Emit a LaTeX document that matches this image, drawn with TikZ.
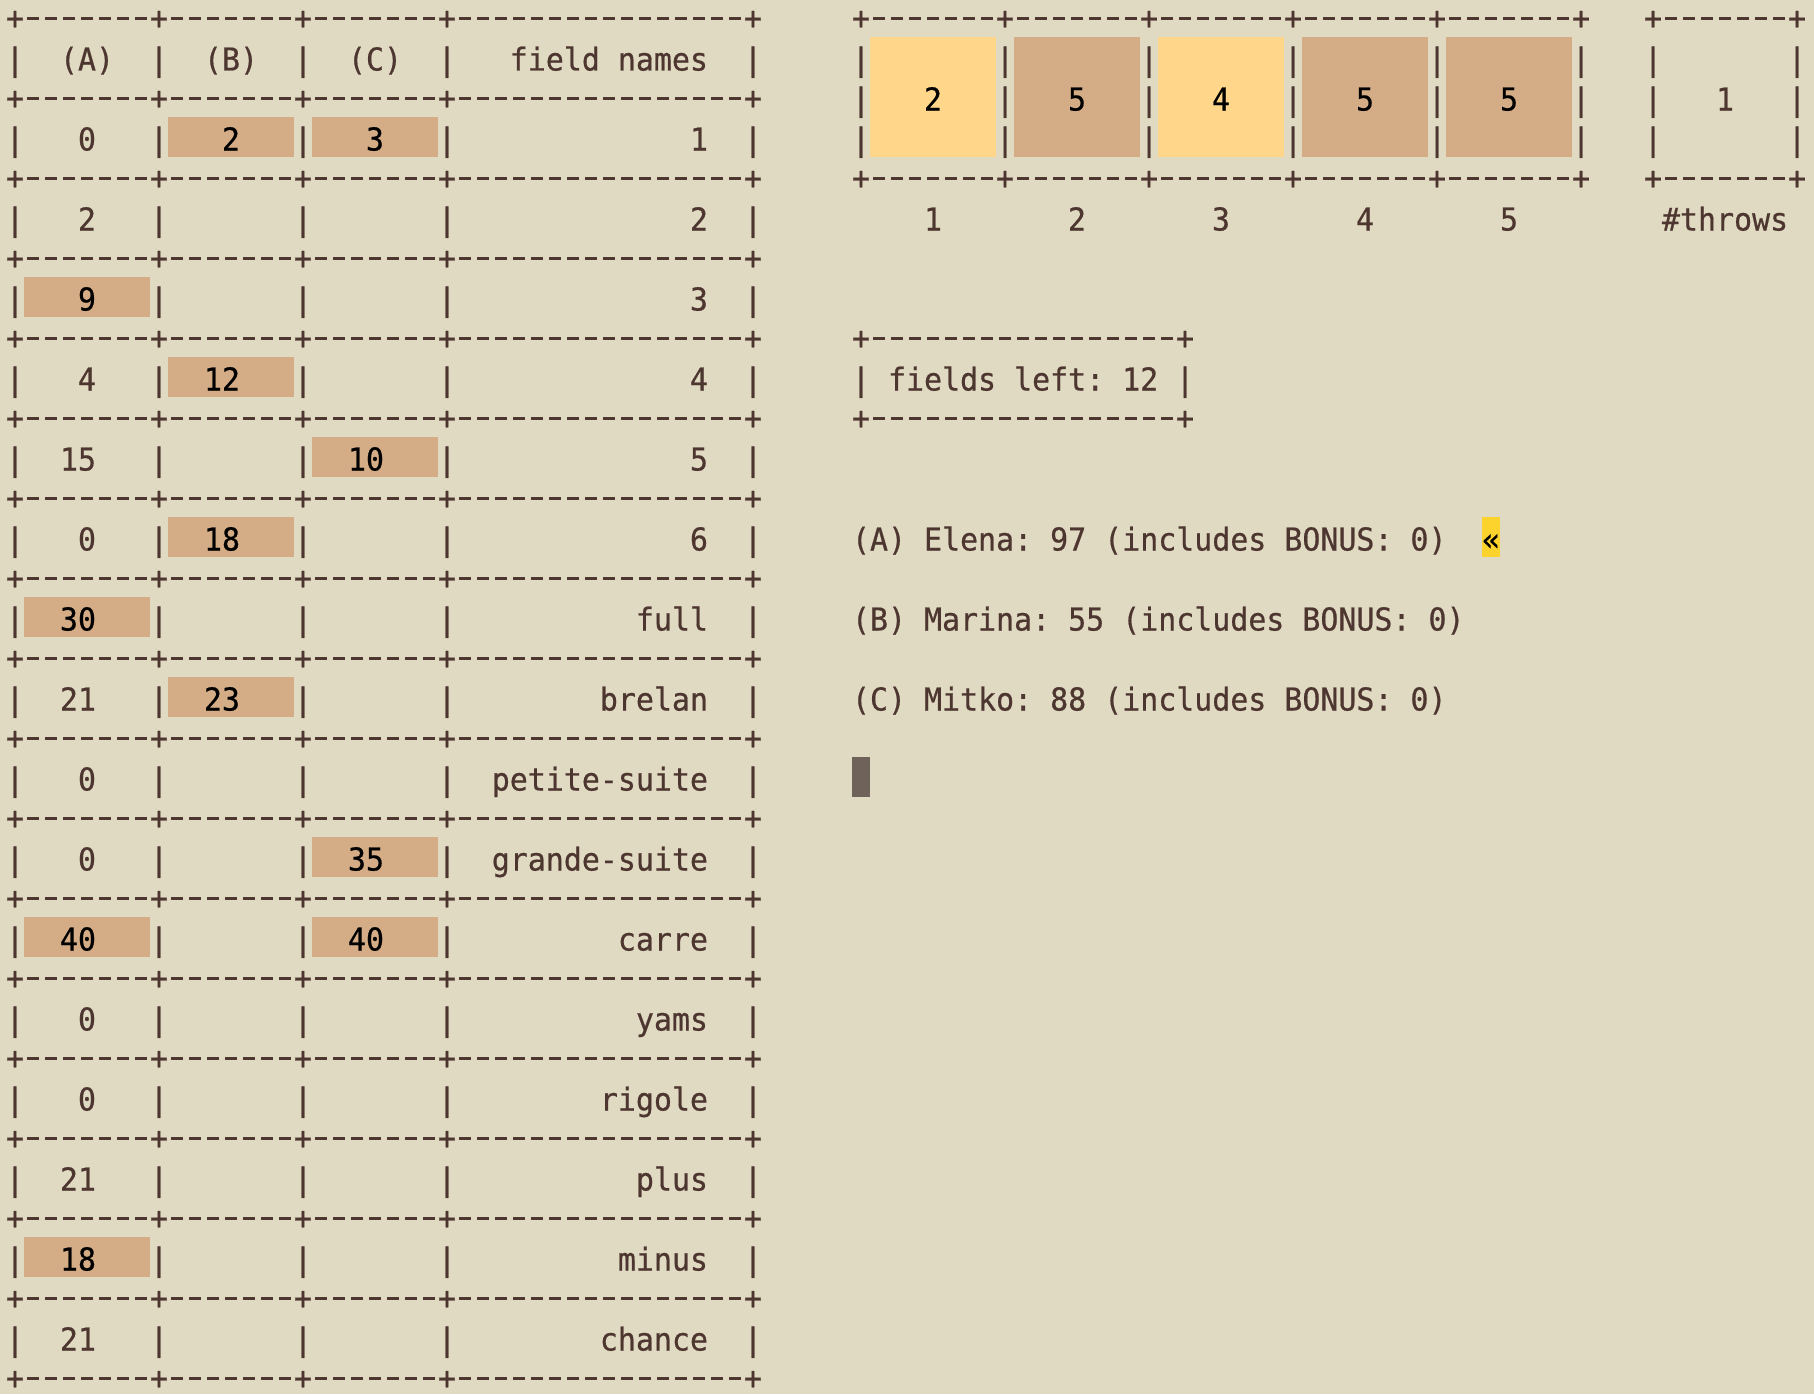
\documentclass[tikz,border=0pt]{standalone}
\usepackage{fontspec}
\setmonofont[FakeStretch=0.95,FakeBold=0.6]{DejaVu Sans Mono}
\definecolor{bg}{HTML}{E0DAC2}
\definecolor{ink}{HTML}{4E3630}
\definecolor{tan}{HTML}{D4AC86}
\definecolor{die}{HTML}{FFD68A}
\definecolor{marker}{HTML}{FCD22C}
\definecolor{cursor}{HTML}{6E625A}

\begin{document}
\begin{tikzpicture}[
x=1pt, y=-1pt,
term/.style={
  inner sep=0pt,
  outer sep=0pt,
  text=ink,
  font=\ttfamily\fontsize{31.5}{40}\selectfont
  },
lft/.style={term, anchor=base west},
rgt/.style={term, anchor=base east},
mid/.style={term, anchor=base},
hot/.style={text=black},
dashes/.style={draw=ink, line width=2.7pt, dash pattern=on 12pt off 6pt}
]
\fill[bg] (0,0) rectangle (1814,1394);
\useasboundingbox (0,0) rectangle (1814,1394);

% score table
\foreach \l in {0,2,...,34}
{\foreach \c in {0,8,16,24,41}
  \node[lft] (plus-\l-\c) at ({6+18*\c},{29+40*\l}) {+};
 \foreach \a/\b in {0/8,8/16,16/24,24/41}
  \draw[dashes] ({27+18*\a},{18.3+40*\l}) -- ({3+18*\b},{18.3+40*\l});
}
\foreach \l in {1,3,...,33}
{\foreach \c in {0,8,16,24,41}
  \node[lft] (bar-\l-\c) at ({6+18*\c},{30.5+40*\l}) {|};
}
\node[lft] (head-a) at (60,70.5) {(A)};
\node[lft] (head-b) at (204,70.5) {(B)};
\node[lft] (head-c) at (348,70.5) {(C)};
\node[rgt] (head-name) at (708,70.5) {field names};

\foreach \l/\name in {3/1,5/2,7/3,9/4,11/5,13/6,15/full,17/brelan,19/petite-suite,
  21/grande-suite,23/carre,25/yams,27/rigole,29/plus,31/minus,33/chance}
  \node[rgt] (name-\l) at (708,{30.5+40*\l}) {\name};

\foreach \l/\v in {3/0,5/2,9/4,11/15,13/0,17/21,19/0,21/0,25/0,27/0,29/21,33/21}
  \node[rgt] (val-0-\l) at (96,{30.5+40*\l}) {\v};

\foreach \k/\l/\v in {0/7/9,0/15/30,0/23/40,0/31/18,1/3/2,1/9/12,1/13/18,1/17/23,
  2/3/3,2/11/10,2/21/35,2/23/40}
{\fill[tan] ({24+144*\k},{40*\l-3}) rectangle ({150+144*\k},{40*\l+37});
 \node[rgt, hot] (val-\k-\l) at ({96+144*\k},{30.5+40*\l}) {\v};
}

% dice and throws
\foreach \l in {0,4}
{\foreach \c in {47,55,63,71,79,87,91,99}
  \node[lft] (dplus-\l-\c) at ({6+18*\c},{29+40*\l}) {+};
 \foreach \a/\b in {47/55,55/63,63/71,71/79,79/87,91/99}
  \draw[dashes] ({27+18*\a},{18.3+40*\l}) -- ({3+18*\b},{18.3+40*\l});
}
\foreach \i/\v/\col in {0/2/die,1/5/tan,2/4/die,3/5/tan,4/5/tan}
{\fill[\col] ({870+144*\i},37) rectangle ({996+144*\i},157);
 \node[mid, hot] (die-\i) at ({933+144*\i},110.5) {\v};
 \node[mid] (pos-\i) at ({933+144*\i},230.5) {\the\numexpr\i+1\relax};
}
\foreach \l in {1,2,3}
{\foreach \c in {47,55,63,71,79,87,91,99}
  \node[lft] (dbar-\l-\c) at ({6+18*\c},{30.5+40*\l}) {|};
}
\node[mid] (throws) at (1725,110.5) {1};
\node[lft] (throws-label) at (1662,230.5) {\#throws};

% fields left
\foreach \l in {8,10}
{\foreach \c in {47,65}
  \node[lft] (lplus-\l-\c) at ({6+18*\c},{29+40*\l}) {+};
 \draw[dashes] ({27+18*47},{18.3+40*\l}) -- ({3+18*65},{18.3+40*\l});
}
\node[lft] (left-l) at (852,390.5) {|};
\node[lft] (left-txt) at (888,390.5) {fields left: 12};
\node[lft] (left-r) at (1176,390.5) {|};

% players
\node[lft] (player-a) at (852,550.5) {(A) Elena: 97 (includes BONUS: 0)};
\node[lft] (player-b) at (852,630.5) {(B) Marina: 55 (includes BONUS: 0)};
\node[lft] (player-c) at (852,710.5) {(C) Mitko: 88 (includes BONUS: 0)};
\fill[marker] (1482,517) rectangle (1500,557);
\node[lft, hot] (turn) at (1482,550.5) {«};

\fill[cursor] (852,757) rectangle (870,797);

\end{tikzpicture}
\end{document}
